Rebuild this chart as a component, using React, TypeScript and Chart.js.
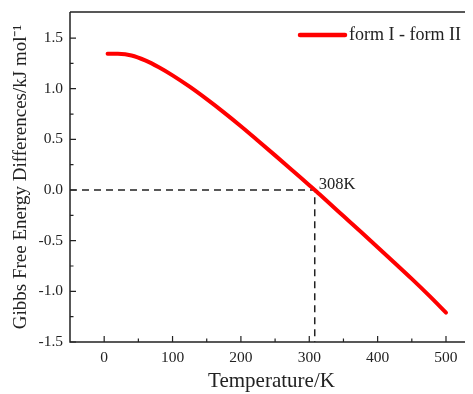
import React, { useEffect, useRef } from "react";
import { Chart, registerables } from "chart.js";

Chart.register(...registerables);

// ---- data ----
const temperatures = [5, 20, 40, 60, 80, 100, 125, 150, 175, 200, 225, 250, 275, 300, 308, 325, 350, 375, 400, 425, 450, 475, 500];
const gibbsDiff = [1.345, 1.344, 1.328, 1.28, 1.212, 1.132, 1.02, 0.897, 0.767, 0.63, 0.487, 0.342, 0.195, 0.047, 0, -0.104, -0.257, -0.41, -0.564, -0.72, -0.877, -1.04, -1.21];
const xTickValues = [0, 100, 200, 300, 400, 500];
const yTickValues = [-1.5, -1.0, -0.5, 0.0, 0.5, 1.0, 1.5];
const xMinorValues = [50, 150, 250, 350, 450];
const yMinorValues = [-1.25, -0.75, -0.25, 0.25, 0.75, 1.25];
const crossingT = 308;
const crossingG = 0;
const crossingLabel = "308K";
const seriesLabel = "form I - form II";
const xTitle = "Temperature/K";
const yTitle = "Gibbs Free Energy Differences/kJ mol\u207B\u00B9";

const FONT = "'Liberation Serif', 'Times New Roman', serif";
const INK = "#222";

const framePlugin = {
  id: "frame",
  afterDatasetsDraw(chart: any) {
    const { ctx, chartArea, scales } = chart;
    const xs = scales.x;
    const ys = scales.y;
    const { left, right, top, bottom } = chartArea;
    ctx.save();
    ctx.strokeStyle = INK;
    ctx.lineWidth = 1.5;
    ctx.setLineDash([]);
    ctx.beginPath();
    ctx.moveTo(left, top);
    ctx.lineTo(right, top);
    ctx.moveTo(left, top);
    ctx.lineTo(left, bottom);
    ctx.lineTo(right, bottom);
    ctx.stroke();
    ctx.lineWidth = 1.2;
    ctx.beginPath();
    xTickValues.forEach((v) => {
      const x = xs.getPixelForValue(v);
      ctx.moveTo(x, bottom);
      ctx.lineTo(x, bottom - 6);
    });
    xMinorValues.forEach((v) => {
      const x = xs.getPixelForValue(v);
      ctx.moveTo(x, bottom);
      ctx.lineTo(x, bottom - 3.5);
    });
    yTickValues.forEach((v) => {
      const y = ys.getPixelForValue(v);
      ctx.moveTo(left, y);
      ctx.lineTo(left + 6, y);
    });
    yMinorValues.forEach((v) => {
      const y = ys.getPixelForValue(v);
      ctx.moveTo(left, y);
      ctx.lineTo(left + 3.5, y);
    });
    ctx.stroke();

    // crossing label
    ctx.fillStyle = INK;
    ctx.font = `16.5px ${FONT}`;
    ctx.textBaseline = "alphabetic";
    ctx.textAlign = "left";
    ctx.fillText(crossingLabel, xs.getPixelForValue(crossingT) + 4, ys.getPixelForValue(crossingG) - 1);

    // legend
    const ly = top + 23;
    const lx0 = 292;
    ctx.strokeStyle = "#ff0000";
    ctx.lineWidth = 4.5;
    ctx.lineCap = "round";
    ctx.beginPath();
    ctx.moveTo(lx0, ly);
    ctx.lineTo(lx0 + 45, ly);
    ctx.stroke();
    ctx.font = `18px ${FONT}`;
    ctx.textBaseline = "middle";
    ctx.fillText(seriesLabel, lx0 + 49, ly);
    ctx.restore();
  },
};

export default function App() {
  const ref = useRef<HTMLCanvasElement | null>(null);
  useEffect(() => {
    if (!ref.current) return;
    const chart = new Chart(ref.current, {
      type: "line",
      data: {
        datasets: [
          {
            label: seriesLabel,
            data: temperatures.map((t, i) => ({ x: t, y: gibbsDiff[i] })),
            borderColor: "#ff0000",
            borderWidth: 4,
            pointRadius: 0,
            cubicInterpolationMode: "monotone",
            borderCapStyle: "round",
            fill: false,
          },
          {
            label: "guide",
            data: [
              { x: -50, y: crossingG },
              { x: crossingT, y: crossingG },
              { x: crossingT, y: -1.5 },
            ],
            borderColor: INK,
            borderWidth: 1.5,
            borderDash: [7, 5],
            pointRadius: 0,
            tension: 0,
            fill: false,
          },
        ],
      },
      options: {
        responsive: false,
        animation: false,
        layout: { padding: { left: 0, right: 0, top: 4, bottom: 0 } },
        plugins: { legend: { display: false }, tooltip: { enabled: false } },
        scales: {
          x: {
            type: "linear",
            min: -50,
            max: 539.5,
            afterBuildTicks: (s: any) => {
              s.ticks = xTickValues.map((v) => ({ value: v }));
            },
            afterFit: (s: any) => {
              s.height = 52;
              s.paddingLeft = 0;
              s.paddingRight = 0;
            },
            grid: { display: false, drawTicks: false },
            border: { display: false },
            ticks: {
              autoSkip: false,
              maxRotation: 0,
              padding: 7,
              color: INK,
              font: { family: FONT, size: 15.5 },
              callback: (v: any) => String(v),
            },
            title: {
              display: true,
              text: xTitle,
              color: INK,
              font: { family: FONT, size: 21 },
              padding: 0,
            },
          },
          y: {
            type: "linear",
            min: -1.5,
            max: 1.757,
            afterBuildTicks: (s: any) => {
              s.ticks = yTickValues.map((v) => ({ value: v }));
            },
            afterFit: (s: any) => {
              s.width = 62;
              s.paddingTop = 0;
              s.paddingBottom = 0;
            },
            grid: { display: false, drawTicks: false },
            border: { display: false },
            ticks: {
              autoSkip: false,
              padding: 7,
              color: INK,
              font: { family: FONT, size: 15.5 },
              callback: (v: any) => Number(v).toFixed(1),
            },
            title: {
              display: true,
              text: yTitle,
              color: INK,
              font: { family: FONT, size: 19 },
              padding: { top: 2, bottom: 0 },
            },
          },
        },
      },
      plugins: [framePlugin],
    } as any);
    return () => chart.destroy();
  }, []);
  return (
    <canvas ref={ref} width={465} height={386} style={{ display: "block" }} />
  );
}
